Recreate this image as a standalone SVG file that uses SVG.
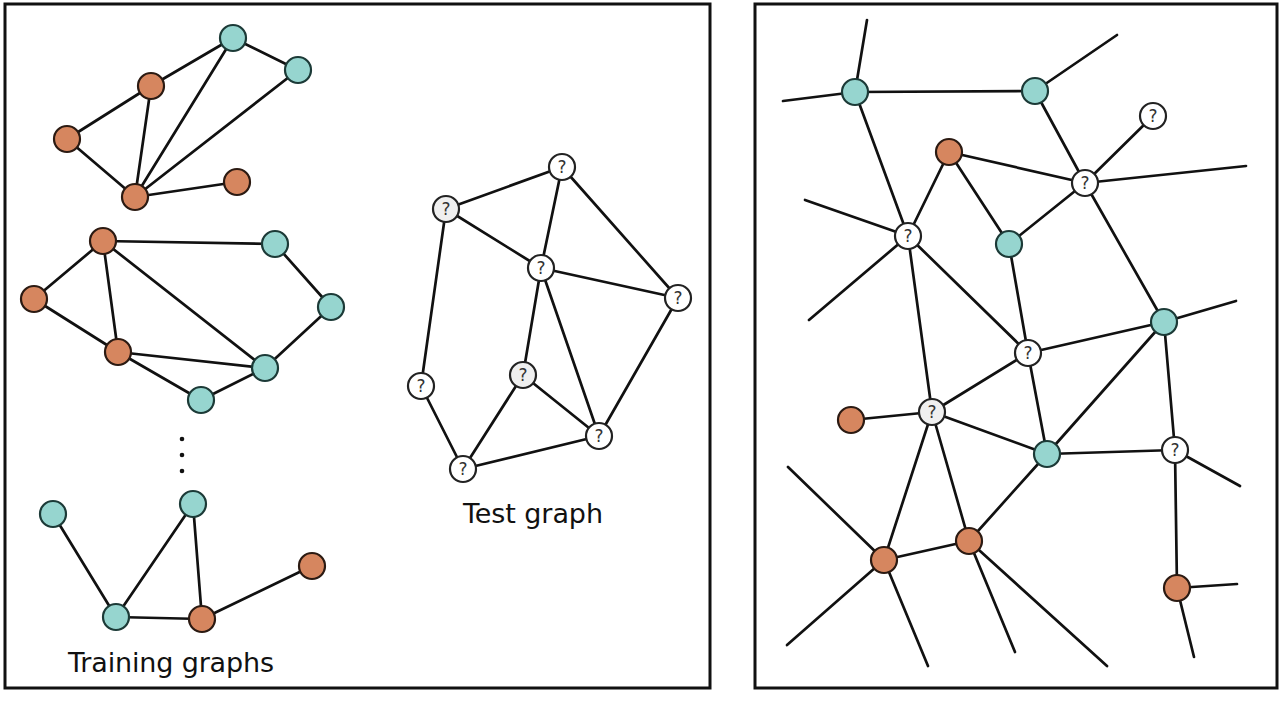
<svg xmlns="http://www.w3.org/2000/svg" width="1280" height="701" viewBox="0 0 1280 701">
<style>
.frame{fill:none;stroke:#111;stroke-width:3}
.e line{stroke:#111;stroke-width:2.7;stroke-linecap:round}
.o{fill:#D6865F;stroke:#2b1a12;stroke-width:2.2}
.t{fill:#96D5CF;stroke:#1c3a37;stroke-width:2.2}
.q{fill:#fff;stroke:#222;stroke-width:2.2}
.qg{fill:#efefef;stroke:#222;stroke-width:2.2}
.ql{font-family:"DejaVu Sans",sans-serif;font-size:17px;fill:#333;text-anchor:middle}
.lbl{font-family:"DejaVu Sans","Liberation Sans",sans-serif;font-size:27px;fill:#111}
</style>
<rect x="0" y="0" width="1280" height="701" fill="#fff"/>
<rect class="frame" x="5" y="4" width="705" height="684"/>
<rect class="frame" x="755" y="4" width="522" height="684"/>
<g id="connectors" class="e">
<line x1="151" y1="86" x2="233" y2="38"/>
<line x1="67" y1="139" x2="151" y2="86"/>
<line x1="67" y1="139" x2="135" y2="197"/>
<line x1="151" y1="86" x2="135" y2="197"/>
<line x1="135" y1="197" x2="233" y2="38"/>
<line x1="135" y1="197" x2="298" y2="70"/>
<line x1="233" y1="38" x2="298" y2="70"/>
<line x1="135" y1="197" x2="237" y2="182"/>
<line x1="103" y1="241" x2="275" y2="244"/>
<line x1="103" y1="241" x2="34" y2="299"/>
<line x1="103" y1="241" x2="118" y2="352"/>
<line x1="103" y1="241" x2="265" y2="368"/>
<line x1="34" y1="299" x2="118" y2="352"/>
<line x1="118" y1="352" x2="265" y2="368"/>
<line x1="118" y1="352" x2="201" y2="400"/>
<line x1="201" y1="400" x2="265" y2="368"/>
<line x1="265" y1="368" x2="331" y2="307"/>
<line x1="275" y1="244" x2="331" y2="307"/>
<line x1="53" y1="514" x2="116" y2="617"/>
<line x1="116" y1="617" x2="193" y2="504"/>
<line x1="193" y1="504" x2="202" y2="619"/>
<line x1="116" y1="617" x2="202" y2="619"/>
<line x1="202" y1="619" x2="312" y2="566"/>
<line x1="446" y1="209" x2="562" y2="167"/>
<line x1="562" y1="167" x2="541" y2="268"/>
<line x1="562" y1="167" x2="678" y2="298"/>
<line x1="446" y1="209" x2="541" y2="268"/>
<line x1="541" y1="268" x2="678" y2="298"/>
<line x1="446" y1="209" x2="421" y2="386"/>
<line x1="541" y1="268" x2="523" y2="375"/>
<line x1="541" y1="268" x2="599" y2="436"/>
<line x1="678" y1="298" x2="599" y2="436"/>
<line x1="523" y1="375" x2="463" y2="469"/>
<line x1="523" y1="375" x2="599" y2="436"/>
<line x1="421" y1="386" x2="463" y2="469"/>
<line x1="463" y1="469" x2="599" y2="436"/>
<line x1="855" y1="92" x2="867" y2="20"/>
<line x1="855" y1="92" x2="783" y2="101"/>
<line x1="855" y1="92" x2="1035" y2="91"/>
<line x1="1035" y1="91" x2="1117" y2="35"/>
<line x1="1035" y1="91" x2="1085" y2="183"/>
<line x1="1085" y1="183" x2="1153" y2="116"/>
<line x1="1085" y1="183" x2="1246" y2="166"/>
<line x1="949" y1="152" x2="1085" y2="183"/>
<line x1="855" y1="92" x2="908" y2="236"/>
<line x1="949" y1="152" x2="908" y2="236"/>
<line x1="908" y1="236" x2="805" y2="200"/>
<line x1="908" y1="236" x2="809" y2="320"/>
<line x1="949" y1="152" x2="1009" y2="244"/>
<line x1="1009" y1="244" x2="1085" y2="183"/>
<line x1="1085" y1="183" x2="1164" y2="322"/>
<line x1="908" y1="236" x2="1028" y2="353"/>
<line x1="1009" y1="244" x2="1028" y2="353"/>
<line x1="908" y1="236" x2="932" y2="412"/>
<line x1="1164" y1="322" x2="1236" y2="301"/>
<line x1="1028" y1="353" x2="1164" y2="322"/>
<line x1="851" y1="420" x2="932" y2="412"/>
<line x1="932" y1="412" x2="1028" y2="353"/>
<line x1="1028" y1="353" x2="1047" y2="454"/>
<line x1="1164" y1="322" x2="1047" y2="454"/>
<line x1="932" y1="412" x2="1047" y2="454"/>
<line x1="1047" y1="454" x2="1175" y2="450"/>
<line x1="1164" y1="322" x2="1175" y2="450"/>
<line x1="1175" y1="450" x2="1240" y2="486"/>
<line x1="1175" y1="450" x2="1177" y2="588"/>
<line x1="788" y1="467" x2="884" y2="560"/>
<line x1="932" y1="412" x2="884" y2="560"/>
<line x1="932" y1="412" x2="969" y2="541"/>
<line x1="1047" y1="454" x2="969" y2="541"/>
<line x1="884" y1="560" x2="969" y2="541"/>
<line x1="884" y1="560" x2="787" y2="645"/>
<line x1="884" y1="560" x2="928" y2="666"/>
<line x1="969" y1="541" x2="1015" y2="652"/>
<line x1="969" y1="541" x2="1107" y2="666"/>
<line x1="1177" y1="588" x2="1237" y2="584"/>
<line x1="1177" y1="588" x2="1194" y2="657"/>
</g>
<g id="tg1-a"><circle class="t" cx="233" cy="38" r="13"/></g>
<g id="tg1-b"><circle class="t" cx="298" cy="70" r="13"/></g>
<g id="tg1-c"><circle class="o" cx="151" cy="86" r="13"/></g>
<g id="tg1-d"><circle class="o" cx="67" cy="139" r="13"/></g>
<g id="tg1-e"><circle class="o" cx="135" cy="197" r="13"/></g>
<g id="tg1-f"><circle class="o" cx="237" cy="182" r="13"/></g>
<g id="tg2-a"><circle class="o" cx="103" cy="241" r="13"/></g>
<g id="tg2-b"><circle class="t" cx="275" cy="244" r="13"/></g>
<g id="tg2-c"><circle class="o" cx="34" cy="299" r="13"/></g>
<g id="tg2-d"><circle class="t" cx="331" cy="307" r="13"/></g>
<g id="tg2-e"><circle class="o" cx="118" cy="352" r="13"/></g>
<g id="tg2-f"><circle class="t" cx="265" cy="368" r="13"/></g>
<g id="tg2-g"><circle class="t" cx="201" cy="400" r="13"/></g>
<g id="dots"><circle cx="182" cy="439" r="2.3" fill="#111"/><circle cx="182" cy="455" r="2.3" fill="#111"/><circle cx="182" cy="471" r="2.3" fill="#111"/></g>
<g id="tg3-a"><circle class="t" cx="53" cy="514" r="13"/></g>
<g id="tg3-b"><circle class="t" cx="193" cy="504" r="13"/></g>
<g id="tg3-c"><circle class="o" cx="312" cy="566" r="13"/></g>
<g id="tg3-d"><circle class="t" cx="116" cy="617" r="13"/></g>
<g id="tg3-e"><circle class="o" cx="202" cy="619" r="13"/></g>
<text class="lbl" x="68" y="672" textLength="206">Training graphs</text>
<g id="test-1"><circle class="q" cx="562" cy="167" r="13"/><text class="ql" x="562" y="173">?</text></g>
<g id="test-2"><circle class="qg" cx="446" cy="209" r="13"/><text class="ql" x="446" y="215">?</text></g>
<g id="test-3"><circle class="q" cx="541" cy="268" r="13"/><text class="ql" x="541" y="274">?</text></g>
<g id="test-4"><circle class="q" cx="678" cy="298" r="13"/><text class="ql" x="678" y="304">?</text></g>
<g id="test-5"><circle class="qg" cx="523" cy="375" r="13"/><text class="ql" x="523" y="381">?</text></g>
<g id="test-6"><circle class="q" cx="421" cy="386" r="13"/><text class="ql" x="421" y="392">?</text></g>
<g id="test-7"><circle class="q" cx="599" cy="436" r="13"/><text class="ql" x="599" y="442">?</text></g>
<g id="test-8"><circle class="q" cx="463" cy="469" r="13"/><text class="ql" x="463" y="475">?</text></g>
<text class="lbl" x="463" y="523" textLength="140">Test graph</text>
<g id="r1"><circle class="t" cx="855" cy="92" r="13"/></g>
<g id="r2"><circle class="t" cx="1035" cy="91" r="13"/></g>
<g id="r3"><circle class="q" cx="1153" cy="116" r="13"/><text class="ql" x="1153" y="122">?</text></g>
<g id="r4"><circle class="q" cx="1085" cy="183" r="13"/><text class="ql" x="1085" y="189">?</text></g>
<g id="r5"><circle class="o" cx="949" cy="152" r="13"/></g>
<g id="r6"><circle class="q" cx="908" cy="236" r="13"/><text class="ql" x="908" y="242">?</text></g>
<g id="r7"><circle class="t" cx="1009" cy="244" r="13"/></g>
<g id="r9"><circle class="t" cx="1164" cy="322" r="13"/></g>
<g id="r10"><circle class="q" cx="1028" cy="353" r="13"/><text class="ql" x="1028" y="359">?</text></g>
<g id="r11"><circle class="qg" cx="932" cy="412" r="13"/><text class="ql" x="932" y="418">?</text></g>
<g id="r12"><circle class="o" cx="851" cy="420" r="13"/></g>
<g id="r13"><circle class="t" cx="1047" cy="454" r="13"/></g>
<g id="r14"><circle class="q" cx="1175" cy="450" r="13"/><text class="ql" x="1175" y="456">?</text></g>
<g id="r15"><circle class="o" cx="884" cy="560" r="13"/></g>
<g id="r16"><circle class="o" cx="969" cy="541" r="13"/></g>
<g id="r18"><circle class="o" cx="1177" cy="588" r="13"/></g>
</svg>
